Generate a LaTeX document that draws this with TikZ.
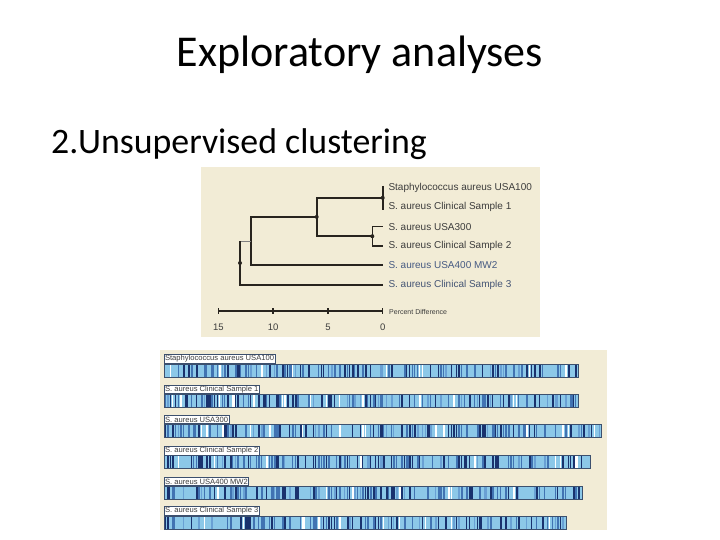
\documentclass[tikz,border=0pt]{standalone}
\usepackage{fontspec}
\usetikzlibrary{calc}
\setmainfont{Carlito}
\newfontfamily\figfont{Liberation Sans}

\definecolor{panelbg}{RGB}{242,236,214}
\definecolor{treeline}{RGB}{40,36,30}
\definecolor{leaftext}{RGB}{60,60,60}
\definecolor{leafblue}{RGB}{70,90,130}
\definecolor{bandlight}{RGB}{140,200,232}
\definecolor{bandsoft}{RGB}{105,160,212}
\definecolor{bandmid}{RGB}{65,115,178}
\definecolor{banddark}{RGB}{25,50,110}
\definecolor{bandedge}{RGB}{60,80,110}

\pgfmathdeclarerandomlist{stripecol}{{banddark}{banddark}{banddark}{bandmid}{bandmid}{bandmid}{bandsoft}{bandsoft}{bandlight}{bandlight}{bandlight}{bandlight}{bandlight}{banddark}{bandmid}{bandlight}{bandlight}{white}}

\begin{document}
\begin{tikzpicture}[x=1pt, y=-1pt,
  leaf/.style={anchor=west, inner sep=0pt, font=\figfont\fontsize{10}{12}\selectfont, text=leaftext},
  tick/.style={anchor=north, inner sep=0pt, font=\figfont\fontsize{9.5}{11}\selectfont, text=leaftext},
  tag/.style={anchor=south west, draw=bandedge, fill=white, inner sep=0.8pt, line width=0.5pt,
              font=\figfont\fontsize{7.6}{8}\selectfont, text=leaftext, minimum height=7.8pt}]

\useasboundingbox (0,0) rectangle (720,540);

% ============================
% Titles
% ============================
\node[anchor=base, inner sep=0pt, font=\fontsize{44}{50}\selectfont] (title) at (360,66.7) {Exploratory analyses};
\node[anchor=base west, inner sep=0pt, font=\fontsize{35.8}{40}\selectfont] (subtitle) at (51,153.3) {2.Unsupervised clustering};

% ============================
% Dendrogram panel
% ============================
\fill[panelbg] (201,167) rectangle (540,337);

\coordinate (t1) at (382.7,188.3);
\coordinate (t2) at (382.7,207.3);
\coordinate (t3) at (382.7,226.7);
\coordinate (t4) at (382.7,245.7);
\coordinate (t5) at (382.7,265);
\coordinate (t6) at (382.7,285);

\coordinate (nA) at (382.7,197.8);
\coordinate (nB) at (372.3,236.2);
\coordinate (nC) at (316.7,216.9);
\coordinate (nD) at (250.7,241);
\coordinate (nE) at (240,263);

\draw[treeline, line width=1.6pt] (382.7,186) -- (382.7,209.6);
\draw[treeline, line width=1.6pt] (t3) -| (nB) |- (t4);
\draw[treeline, line width=1.6pt] (nA) -| (nC) |- (nB);
\draw[treeline, line width=1.6pt] (nC) -| (nD) |- (t5);
\draw[gray, line width=1pt] (nD) -- (nD -| nE);
\draw[treeline, line width=1.6pt] (nD -| nE) -- (nE) |- (t6);

\foreach \pt in {nA,nB,nC,nE}{
  \fill[treeline] (\pt) circle (2);
}

% leaf labels
\node[leaf] (l1) at (388.3,188.3) {Staphylococcus aureus USA100};
\node[leaf] (l2) at (388.3,207.3) {S. aureus Clinical Sample 1};
\node[leaf] (l3) at (388.3,226.7) {S. aureus USA300};
\node[leaf] (l4) at (388.3,245.7) {S. aureus Clinical Sample 2};
\node[leaf, text=leafblue] (l5) at (388.3,265) {S. aureus USA400 MW2};
\node[leaf, text=leafblue!80!leaftext] (l6) at (388.3,285) {S. aureus Clinical Sample 3};

% ============================
% Scale bar
% ============================
\coordinate (s15) at (218.3,310.7);
\coordinate (s0) at (382.7,310.7);
\draw[treeline, line width=1.6pt] (s15) -- (s0);
\foreach \v in {0,5,10,15}{
  \draw[treeline, line width=1.4pt] ($(s0)+(-10.96*\v,-2.5)$) -- ($(s0)+(-10.96*\v,3)$);
  \node[tick] (k\v) at ($(s0)+(-10.96*\v,13)$) {\v};
}
\node[anchor=west, inner sep=0pt, font=\figfont\fontsize{7}{8}\selectfont, text=leaftext] (pd) at (389,311.7) {Percent Difference};

% ============================
% Band panel
% ============================
\fill[panelbg] (160,350) rectangle (607,530);

\pgfmathsetseed{4711}
\foreach \i/\yt/\xe/\txt in {
  1/364/578.3/Staphylococcus aureus USA100,
  2/394.3/578.3/S. aureus Clinical Sample 1,
  3/424/601.7/S. aureus USA300,
  4/455.7/590/S. aureus Clinical Sample 2,
  5/486/582.7/S. aureus USA400 MW2,
  6/516/566.7/S. aureus Clinical Sample 3}{
  \fill[bandlight] (164,\yt) rectangle (\xe,\yt+13);
  \pgfmathsetmacro\xlast{\xe-2.6}
  \foreach \x in {164.6,167.2,...,\xlast}{
    \pgfmathrandomitem\sc{stripecol}
    \pgfmathsetmacro\sw{0.6+rnd*1.9}
    \fill[\sc] (\x,\yt) rectangle (\x+\sw,\yt+13);
  }
  \draw[bandedge, line width=0.6pt] (164,\yt) rectangle (\xe,\yt+13);
  \node[tag] (bl\i) at (164,\yt-0.4) {\txt};
}

\end{tikzpicture}
\end{document}
